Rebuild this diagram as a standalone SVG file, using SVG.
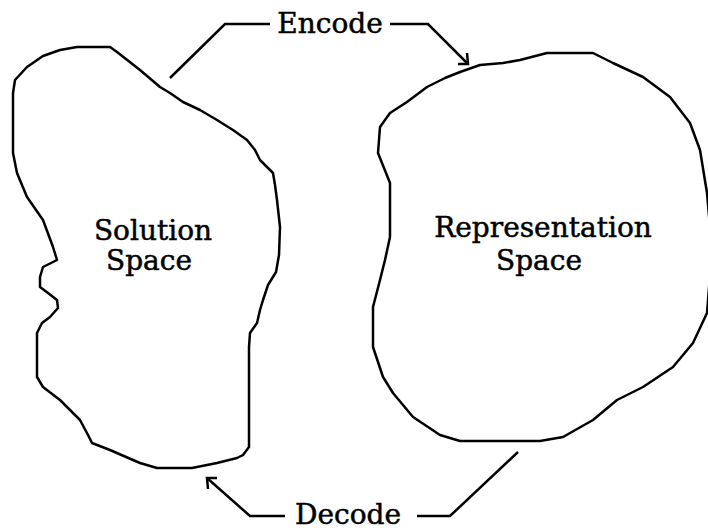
<svg xmlns="http://www.w3.org/2000/svg" width="708" height="532" viewBox="0 0 708 532">
<style>
.blob{fill:none;stroke:#000;stroke-width:2.5;stroke-linejoin:round}
.conn{fill:none;stroke:#000;stroke-width:2.5;stroke-linejoin:miter}
.lbl{font-family:"DejaVu Serif","Liberation Serif",serif;font-size:28px;fill:#000;stroke:#000;stroke-width:0.5}
</style>
<rect width="708" height="532" fill="#fff"/>
<g id="solution-space">
<path class="blob" d="M43,56 L60,50 L77,47 L110,47 L117,52 L140,70 L160,87 L170,93 L183,102 L200,110 L217,120 L233,130 L247,140 L255,150 L260,160 L273,173 L275,185 L277,200 L280,227 L279,255 L276,272 L268,285 L263,300 L260,310 L257,323 L250,333 L249,347 L249,447 L243,455 L237,458 L217,463 L192,468 L157,468 L140,463 L133,460 L110,450 L92,443 L88,435 L80,420 L70,410 L60,400 L43,387 L37,377 L37,333 L42,323 L50,317 L58,308 L57,300 L48,293 L40,287 L40,277 L43,267 L57,260 L53,247 L43,220 L27,197 L17,173 L13,153 L13,93 L15,80 L27,67 Z"/>
<text class="lbl" x="153" y="240" text-anchor="middle">Solution</text>
<text class="lbl" x="149" y="270" text-anchor="middle">Space</text>
</g>
<g id="representation-space">
<path class="blob" d="M460,72 L480,65 L503,63 L520,60 L547,53 L593,53 L613,63 L643,77 L670,97 L690,123 L700,150 L707,193 L712,250 L707,313 L693,343 L673,367 L643,387 L617,400 L593,420 L563,437 L540,441 L460,441 L440,435 L413,417 L393,393 L383,377 L373,347 L373,307 L380,280 L385,260 L390,237 L390,183 L378,153 L380,127 L390,113 L407,102 L427,87 L445,78 Z"/>
<text class="lbl" x="543" y="237" text-anchor="middle">Representation</text>
<text class="lbl" x="539" y="270" text-anchor="middle">Space</text>
</g>
<g id="connectors">
<polyline class="conn" points="170,78 225,24 270,24"/>
<polyline class="conn" points="390,24 428,24 468,64"/>
<polyline class="conn" points="467,53 468,64 458,64"/>
<polyline class="conn" points="207,478 250,516 285,516"/>
<polyline class="conn" points="208,489 207,478 217,478"/>
<polyline class="conn" points="417,516 450,516 518,452"/>
<text class="lbl" x="330" y="33" text-anchor="middle">Encode</text>
<text class="lbl" x="348" y="524" text-anchor="middle">Decode</text>
</g>
</svg>
